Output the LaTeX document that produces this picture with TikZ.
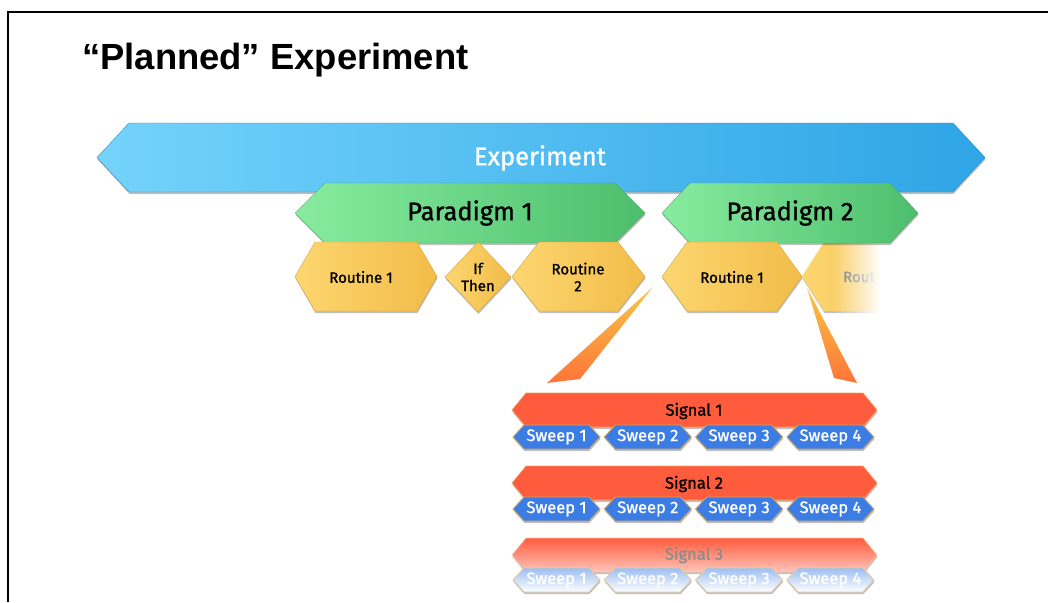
\documentclass[tikz,border=0pt]{standalone}
\usepackage{fontspec}
\setmainfont{Fira Sans}
\newfontfamily\medfont[FakeBold=1.2]{Fira Sans}
\newfontfamily\titlefont{Liberation Sans}
\usetikzlibrary{shadows,fadings}
\tikzfading[name=fadeR, left color=transparent!100, right color=transparent!0]
\definecolor{expL}{HTML}{74D3FB}
\definecolor{expR}{HTML}{2EA5E6}
\definecolor{parL}{HTML}{88EC9F}
\definecolor{parR}{HTML}{4DBE6D}
\definecolor{rouL}{HTML}{FCD670}
\definecolor{rouR}{HTML}{F2BC48}
\definecolor{rouE}{HTML}{D9A83C}
\definecolor{sigC}{HTML}{FF5B3D}
\definecolor{sigE}{HTML}{F0A060}
\definecolor{swC}{HTML}{3B7DE4}
\definecolor{swE}{HTML}{C9A46A}
\definecolor{wedT}{HTML}{F6C846}
\definecolor{wedB}{HTML}{FF7438}
\newcommand\hexpath[5]{(#1,{(#3+#4)/2}) -- ({#1+#5},#3) -- ({#2-#5},#3) -- (#2,{(#3+#4)/2}) -- ({#2-#5},#4) -- ({#1+#5},#4) -- cycle}
\tikzset{
  shad/.style={drop shadow={shadow xshift=0.5pt, shadow yshift=-2pt, opacity=0.25, fill=black}},
  expbox/.style={shad, left color=expL, right color=expR, draw=expR!80!black, line width=0.3pt},
  parbox/.style={shad, left color=parL, right color=parR, draw=parR!85!black, line width=0.3pt},
  roubox/.style={shad, left color=rouL, right color=rouR, draw=rouE, line width=0.4pt},
  sigbox/.style={shad, fill=sigC, draw=sigE, line width=0.6pt},
  swbox/.style={shad, fill=swC, draw=swE, line width=0.9pt},
  wedge/.style={top color=wedT, bottom color=wedB},
  bigtxt/.style={font=\medfont\fontsize{25.5}{28}\selectfont},
  routxt/.style={font=\medfont\fontsize{15}{17}\selectfont, align=center},
  sigtxt/.style={font=\medfont\fontsize{16.5}{18}\selectfont},
  swtxt/.style={font=\medfont\fontsize{16.5}{18}\selectfont, text=white},
}
\begin{document}
\begin{tikzpicture}[x=1pt,y=-1pt]
\useasboundingbox (0,0) rectangle (1048,602);
\fill[white] (0,0) rectangle (1048,602);
% frame
\draw[line width=2pt] (8,602) -- (8,12) -- (1048,12);
% title
\node[anchor=base west, inner sep=0pt, font=\titlefont\bfseries\fontsize{36.4}{40}\selectfont] (title) at (82,70) {“Planned” Experiment};
% experiment
\path[expbox] \hexpath{97}{985}{123}{192}{32};
\node[bigtxt, text=white] (exp) at (540,158) {Experiment};
% paradigm 1
\path[parbox] \hexpath{295}{645}{183}{243}{30};
\node[bigtxt] (par1) at (470,213) {Paradigm 1};
% routines of paradigm 1
\path[roubox] \hexpath{295}{437}{242}{311}{20};
\node[routxt] (r11) at (361,277) {Routine 1};
\path[roubox] (445,277) -- (478,242) -- (511,277) -- (478,312) -- cycle;
\node[routxt, inner sep=0pt] (ifthen) at (478,277) {If\\Then};
\path[roubox] \hexpath{512}{645}{242}{311}{27};
\node[routxt, inner sep=0pt] (r12) at (578,277) {Routine\\2};
% faded routine of paradigm 2
\path[shad, left color=rouL, right color=rouR] \hexpath{802}{940}{242}{311}{22};
\node[routxt, anchor=west, inner sep=0pt, text=black!60] (r22) at (843,277) {Rout};
\fill[white, path fading=fadeR] (832,236) rectangle (880,322);
\fill[white] (879.5,236) rectangle (950,322);
% paradigm 2
\path[parbox] \hexpath{662}{918}{183}{243}{28};
\node[bigtxt] (par2) at (790,213) {Paradigm 2};
\path[roubox] \hexpath{662}{802}{242}{311}{25};
\node[routxt] (r21) at (732,277) {Routine 1};
% wedges
\path[wedge] (653,287) -- (547,383) -- (580,379) -- cycle;
\path[wedge] (807,288) -- (834,378) -- (857,383) -- cycle;
% signals
\path[sigbox] \hexpath{512}{877}{393}{427}{14};
\node[sigtxt] (s1) at (694,411) {Signal 1};
\path[sigbox] \hexpath{512}{877}{466}{500}{14};
\node[sigtxt] (s2) at (694,484) {Signal 2};
\path[shad, top color=sigC, bottom color=sigC!35!white, draw=sigE!60!white, line width=0.6pt] \hexpath{512}{877}{538}{572}{14};
\node[sigtxt, text=black!45] (s3) at (694,555) {Signal 3};
% sweeps
\foreach \r/\c in {1/437, 2/509} {
  \foreach \i in {1,...,4} {
    \pgfmathsetmacro\xa{513+91.3*(\i-1)}
    \pgfmathsetmacro\xb{\xa+87}
    \path[swbox] \hexpath{\xa}{\xb}{\c-12}{\c+12}{11};
    \node[swtxt] (sw\r\i) at ({(\xa+\xb)/2},\c) {Sweep \i};
  }
}
\foreach \i in {1,...,4} {
  \pgfmathsetmacro\xa{513+91.3*(\i-1)}
  \pgfmathsetmacro\xb{\xa+87}
  \path[shad, top color=swC!50!white, bottom color=white, draw=swE!60!white, line width=0.9pt] \hexpath{\xa}{\xb}{568}{592}{11};
  \node[swtxt, text=white] (sw3\i) at ({(\xa+\xb)/2},580) {Sweep \i};
}
\end{tikzpicture}
\end{document}
